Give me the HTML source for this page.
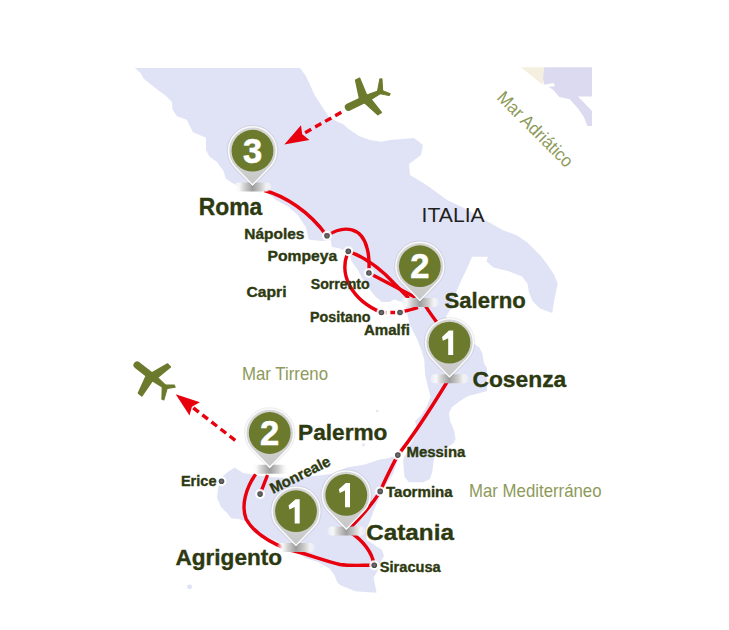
<!DOCTYPE html>
<html><head><meta charset="utf-8"><style>
html,body{margin:0;padding:0;background:#fff;}
svg{display:block;font-family:"Liberation Sans",sans-serif;}
</style></head><body>
<svg width="729" height="630" viewBox="0 0 729 630">
<defs>
<linearGradient id="shad" x1="0" y1="0" x2="1" y2="0"><stop offset="0" stop-color="#fff" stop-opacity="0.2"/><stop offset="0.15" stop-color="#f8f8f8"/><stop offset="0.28" stop-color="#d2d2d2"/><stop offset="0.5" stop-color="#9e9e9e"/><stop offset="0.72" stop-color="#cdcdcd"/><stop offset="0.86" stop-color="#f2f2f2"/><stop offset="1" stop-color="#fff" stop-opacity="0.2"/></linearGradient>
<linearGradient id="pingrad" x1="0" y1="0" x2="0" y2="1"><stop offset="0" stop-color="#d6d6d6"/><stop offset="0.7" stop-color="#cfcfcf"/><stop offset="1" stop-color="#c6c6c6"/></linearGradient>
<radialGradient id="dotg"><stop offset="0" stop-color="#777"/><stop offset="1" stop-color="#444"/></radialGradient>
<filter id="soft" x="-20%" y="-50%" width="140%" height="200%"><feGaussianBlur stdDeviation="0.7"/></filter>
</defs>
<polygon points="520.8,67.2 544.2,67.2 543.0,85.0" fill="#f5efdf"/>
<polygon points="544.2,67.2 592.0,67.2 592.0,96.4 578.0,96.4 592.0,111.0 592.0,126.1 587.3,126.1 583.8,116.8 578.0,108.6 569.8,99.3 559.3,97.0 553.5,90.0 548.8,87.0 555.2,85.9 553.5,83.0 544.2,84.7 543.0,78.3" fill="#dcdaf0"/>
<polygon points="134.9,68.0 300.0,68.0 306.0,76.0 314.6,95.0 321.7,106.0 328.8,116.7 337.8,122.0 343.0,124.0 348.5,129.0 359.0,136.0 370.0,140.0 381.0,141.7 390.0,140.0 414.0,138.0 423.0,145.0 421.0,155.0 409.0,164.0 410.0,175.0 428.0,186.0 447.0,200.0 462.0,207.0 487.0,221.0 502.4,230.0 516.7,235.3 527.4,242.5 540.0,255.0 547.0,263.9 554.0,274.6 557.7,283.5 554.1,301.3 552.3,313.0 539.9,308.5 532.7,301.3 529.0,292.4 527.4,283.5 522.0,276.4 507.8,271.0 493.5,267.4 486.4,261.2 488.0,256.7 472.1,256.7 466.7,269.2 461.4,280.0 456.0,292.4 450.7,308.5 446.0,317.0 452.0,327.0 462.0,336.0 473.0,343.0 479.4,347.6 482.5,354.0 484.0,363.5 487.0,368.0 487.2,391.0 478.0,393.5 468.0,396.0 460.0,401.0 452.0,407.0 449.0,413.0 450.0,421.0 454.0,430.0 455.6,439.0 453.3,443.3 450.0,445.6 440.0,452.0 434.4,457.8 433.3,463.3 432.2,472.2 430.0,478.9 423.3,482.2 408.9,482.2 404.4,476.7 403.3,463.3 403.3,458.9 406.7,452.2 412.2,441.1 417.8,430.0 415.0,421.0 420.7,415.7 426.4,407.0 430.7,397.0 427.9,387.0 425.0,374.3 424.3,360.0 422.0,352.0 417.5,340.0 409.5,324.0 407.0,313.0 406.7,309.4 401.7,302.0 394.3,299.5 389.4,302.0 382.0,302.0 375.8,297.0 371.0,291.0 362.0,278.0 358.0,270.0 352.0,262.0 348.0,252.0 338.0,248.0 331.8,247.0 330.7,240.0 322.0,241.0 312.0,240.0 308.6,239.5 305.8,227.1 297.6,214.8 288.0,206.6 275.7,199.7 264.7,190.1 256.0,188.0 250.0,187.0 243.5,189.0 232.3,182.9 225.7,178.5 223.5,170.9 217.0,162.1 209.3,156.6 206.0,150.0 206.0,137.8 193.0,132.3 189.6,125.5 186.9,120.0 185.5,119.3 176.9,116.2 172.5,109.4 171.9,102.0 165.7,95.8 155.9,88.4 147.2,81.6 143.5,78.5 141.0,73.6" fill="#e0e3f5"/>
<polygon points="218.5,486.0 221.0,478.0 227.0,472.5 234.6,467.4 243.2,473.1 251.9,474.6 270.0,477.0 290.0,478.0 306.0,477.0 331.0,474.0 347.6,467.2 364.0,464.7 378.9,459.8 388.8,458.1 397.0,454.8 401.0,446.0 398.0,460.0 393.0,474.0 386.0,484.0 379.0,498.0 374.0,510.0 369.5,522.0 366.0,530.0 367.0,540.0 376.0,546.0 382.0,550.0 384.0,556.0 380.5,562.0 378.0,570.0 373.6,577.7 375.1,585.3 376.6,592.8 364.5,592.1 355.4,591.3 340.4,585.3 337.3,582.3 334.3,574.7 329.8,568.7 319.2,562.6 305.7,558.1 299.6,553.6 288.2,549.8 277.5,541.5 266.6,537.0 253.4,532.7 246.8,521.7 238.6,519.0 231.4,518.6 227.0,513.0 221.0,507.0 217.0,498.0" fill="#e0e3f5"/>
<ellipse cx="189.6" cy="586.8" rx="2.6" ry="2.2" fill="#e0e3f5"/><circle cx="377.2" cy="411" r="1.2" fill="#e0e3f5"/><circle cx="363.5" cy="445" r="1.4" fill="#e0e3f5"/>
<path d="M264.5,190.5 C285,196 310,212 326.5,235.5" fill="none" stroke="#e8000e" stroke-width="3.4"/>
<path d="M327,235.8 C345,224 362,228 367,248 C370,258 369,266 368.9,273" fill="none" stroke="#e8000e" stroke-width="3.4"/>
<path d="M368.9,273 L415.7,297.5" fill="none" stroke="#e8000e" stroke-width="3.4"/>
<path d="M348.3,251.3 C365,257 380,268 394.7,283.9 L408.7,298.3" fill="none" stroke="#e8000e" stroke-width="3.4"/>
<path d="M348.3,251.3 C338,275 352,300 381.4,312.5" fill="none" stroke="#e8000e" stroke-width="3.4"/>
<path d="M400,312.5 C405,311 412,309.5 418,307.5" fill="none" stroke="#e8000e" stroke-width="3.4"/>
<path d="M422,300 C430,315 440,325 449.5,341" fill="none" stroke="#e8000e" stroke-width="3.4"/>
<path d="M449.5,378 C430,410 410,440 397.8,455.1 C390,470 384,482 380.2,491.4 C372,505 360,518 348,530" fill="none" stroke="#e8000e" stroke-width="3.4"/>
<path d="M255.6,474.3 C246,488 241,505 246,518.7 C252,530 266,541 288,549.5" fill="none" stroke="#e8000e" stroke-width="3.4"/>
<path d="M288,549.5 C305,553 322,560 340,564.5 C350,566 360,565.2 374.3,565.2" fill="none" stroke="#e8000e" stroke-width="3.4"/>
<path d="M374.3,565.2 C372,552 365,542 350,532" fill="none" stroke="#e8000e" stroke-width="3.4"/>
<path d="M267.5,475 L260.1,494.1" fill="none" stroke="#e8000e" stroke-width="3.4"/>
<path d="M381.4,312.5 L400,312.5" fill="none" stroke="#e8000e" stroke-width="3.4" stroke-dasharray="5 4"/>
<circle cx="327.0" cy="235.8" r="5" fill="#fff" opacity="0.9"/><circle cx="327.0" cy="235.8" r="2.8" fill="url(#dotg)"/>
<circle cx="348.3" cy="251.3" r="5" fill="#fff" opacity="0.9"/><circle cx="348.3" cy="251.3" r="2.8" fill="url(#dotg)"/>
<circle cx="368.9" cy="273.0" r="5" fill="#fff" opacity="0.9"/><circle cx="368.9" cy="273.0" r="2.8" fill="url(#dotg)"/>
<circle cx="381.4" cy="312.5" r="5" fill="#fff" opacity="0.9"/><circle cx="381.4" cy="312.5" r="2.8" fill="url(#dotg)"/>
<circle cx="400.0" cy="312.5" r="5" fill="#fff" opacity="0.9"/><circle cx="400.0" cy="312.5" r="2.8" fill="url(#dotg)"/>
<circle cx="397.8" cy="455.1" r="5" fill="#fff" opacity="0.9"/><circle cx="397.8" cy="455.1" r="2.8" fill="url(#dotg)"/>
<circle cx="380.2" cy="491.4" r="5" fill="#fff" opacity="0.9"/><circle cx="380.2" cy="491.4" r="2.8" fill="url(#dotg)"/>
<circle cx="374.3" cy="565.2" r="5" fill="#fff" opacity="0.9"/><circle cx="374.3" cy="565.2" r="2.8" fill="url(#dotg)"/>
<circle cx="260.1" cy="494.1" r="5" fill="#fff" opacity="0.9"/><circle cx="260.1" cy="494.1" r="2.8" fill="url(#dotg)"/>
<circle cx="221.5" cy="481.3" r="5" fill="#fff" opacity="0.9"/><circle cx="221.5" cy="481.3" r="2.8" fill="url(#dotg)"/>
<rect x="233.5" y="182.4" width="38" height="9" rx="4.5" fill="url(#shad)" filter="url(#soft)"/>
<path d="M235.36,167.35 A23.9,23.9 0 1 1 269.64,167.35 L252.50,185.00 Z" fill="none" stroke="#000" stroke-opacity="0.07" stroke-width="3.6"/>
<path d="M235.36,167.35 A23.9,23.9 0 1 1 269.64,167.35 L252.50,185.00 Z" fill="url(#pingrad)" stroke="#fafafa" stroke-width="1.5"/>
<circle cx="252.5" cy="150.7" r="20.9" fill="#6b7a2c"/>
<text x="252.5" y="162.9" text-anchor="middle" font-size="34.5" font-weight="bold" fill="#fff" stroke="#fff" stroke-width="0.6">3</text>
<rect x="400.8" y="297.9" width="38" height="9" rx="4.5" fill="url(#shad)" filter="url(#soft)"/>
<path d="M402.66,282.85 A23.9,23.9 0 1 1 436.94,282.85 L419.80,300.50 Z" fill="none" stroke="#000" stroke-opacity="0.07" stroke-width="3.6"/>
<path d="M402.66,282.85 A23.9,23.9 0 1 1 436.94,282.85 L419.80,300.50 Z" fill="url(#pingrad)" stroke="#fafafa" stroke-width="1.5"/>
<circle cx="419.8" cy="266.2" r="20.9" fill="#6b7a2c"/>
<text x="419.8" y="278.4" text-anchor="middle" font-size="34.5" font-weight="bold" fill="#fff" stroke="#fff" stroke-width="0.6">2</text>
<rect x="430.5" y="374.3" width="38" height="9" rx="4.5" fill="url(#shad)" filter="url(#soft)"/>
<path d="M432.36,359.25 A23.9,23.9 0 1 1 466.64,359.25 L449.50,376.90 Z" fill="none" stroke="#000" stroke-opacity="0.07" stroke-width="3.6"/>
<path d="M432.36,359.25 A23.9,23.9 0 1 1 466.64,359.25 L449.50,376.90 Z" fill="url(#pingrad)" stroke="#fafafa" stroke-width="1.5"/>
<circle cx="449.5" cy="342.6" r="20.9" fill="#6b7a2c"/>
<polygon points="453.2,330.6 453.2,355.0 448.2,355.0 448.2,338.3 442.9,340.8 442.0,337.0 449.0,330.6" fill="#fff"/>
<rect x="250.7" y="464.7" width="38" height="9" rx="4.5" fill="url(#shad)" filter="url(#soft)"/>
<path d="M252.56,449.65 A23.9,23.9 0 1 1 286.84,449.65 L269.70,467.30 Z" fill="none" stroke="#000" stroke-opacity="0.07" stroke-width="3.6"/>
<path d="M252.56,449.65 A23.9,23.9 0 1 1 286.84,449.65 L269.70,467.30 Z" fill="url(#pingrad)" stroke="#fafafa" stroke-width="1.5"/>
<circle cx="269.7" cy="433.0" r="20.9" fill="#6b7a2c"/>
<text x="269.7" y="445.2" text-anchor="middle" font-size="34.5" font-weight="bold" fill="#fff" stroke="#fff" stroke-width="0.6">2</text>
<rect x="277.0" y="542.9" width="38" height="9" rx="4.5" fill="url(#shad)" filter="url(#soft)"/>
<path d="M278.86,527.85 A23.9,23.9 0 1 1 313.14,527.85 L296.00,545.50 Z" fill="none" stroke="#000" stroke-opacity="0.07" stroke-width="3.6"/>
<path d="M278.86,527.85 A23.9,23.9 0 1 1 313.14,527.85 L296.00,545.50 Z" fill="url(#pingrad)" stroke="#fafafa" stroke-width="1.5"/>
<circle cx="296.0" cy="511.2" r="20.9" fill="#6b7a2c"/>
<polygon points="299.7,499.2 299.7,523.6 294.7,523.6 294.7,506.9 289.4,509.4 288.5,505.6 295.5,499.2" fill="#fff"/>
<rect x="327.3" y="526.6" width="38" height="9" rx="4.5" fill="url(#shad)" filter="url(#soft)"/>
<path d="M329.16,511.55 A23.9,23.9 0 1 1 363.44,511.55 L346.30,529.20 Z" fill="none" stroke="#000" stroke-opacity="0.07" stroke-width="3.6"/>
<path d="M329.16,511.55 A23.9,23.9 0 1 1 363.44,511.55 L346.30,529.20 Z" fill="url(#pingrad)" stroke="#fafafa" stroke-width="1.5"/>
<circle cx="346.3" cy="494.9" r="20.9" fill="#6b7a2c"/>
<polygon points="350.0,482.9 350.0,507.3 345.0,507.3 345.0,490.6 339.7,493.1 338.8,489.3 345.8,482.9" fill="#fff"/>
<line x1="341.3" y1="112.3" x2="302.2" y2="134.3" stroke="#e8000e" stroke-width="3.4" stroke-dasharray="7 4.5"/><path d="M284.3,144.4 L301.0,125.2 L302.2,134.3 L309.4,140.0 Z" fill="#e8000e"/>
<line x1="235.2" y1="440.3" x2="191.9" y2="406.8" stroke="#e8000e" stroke-width="3.4" stroke-dasharray="7 4.5"/><path d="M175.7,394.2 L199.9,402.2 L191.9,406.8 L189.5,415.6 Z" fill="#e8000e"/>
<g transform="translate(363.8,99.8) rotate(-25.8) scale(1,1)" fill="#6b7a2c" stroke="#6b7a2c" stroke-linejoin="round"><line x1="-17" y1="0" x2="3" y2="0" stroke-width="7.4" stroke-linecap="round"/><path d="M2,-3.4 L19.5,-1.5 L21,0 L19.5,1.5 L2,3.4 Z" stroke-width="1"/><path d="M-3.5,-2 L1.2,-21.3 L5.6,-21.3 L4.5,-2 Z" stroke-width="1.5"/><path d="M-1,2 L6.2,19.6 L10.3,19 L6.5,2 Z" stroke-width="1.5"/><path d="M15.5,-1 L23.5,-11.8 L25.5,-11 L21,0 Z" stroke-width="1"/><path d="M16.5,1 L24.5,7.2 L26.5,6 L21,0 Z" stroke-width="1"/></g>
<g transform="translate(150.6,375.6) rotate(38.0) scale(1,-1)" fill="#6b7a2c" stroke="#6b7a2c" stroke-linejoin="round"><line x1="-17" y1="0" x2="3" y2="0" stroke-width="7.4" stroke-linecap="round"/><path d="M2,-3.4 L19.5,-1.5 L21,0 L19.5,1.5 L2,3.4 Z" stroke-width="1"/><path d="M-3.5,-2 L1.2,-21.3 L5.6,-21.3 L4.5,-2 Z" stroke-width="1.5"/><path d="M-1,2 L6.2,19.6 L10.3,19 L6.5,2 Z" stroke-width="1.5"/><path d="M15.5,-1 L23.5,-11.8 L25.5,-11 L21,0 Z" stroke-width="1"/><path d="M16.5,1 L24.5,7.2 L26.5,6 L21,0 Z" stroke-width="1"/></g>
<text x="198.7" y="214.6" font-size="23.1" font-weight="bold" fill="#2d3910" stroke="#2d3910" stroke-width="0.35" textLength="63.5" lengthAdjust="spacingAndGlyphs">Roma</text>
<text x="244.3" y="239.4" font-size="14.5" font-weight="bold" fill="#2d3910" stroke="#2d3910" stroke-width="0.35" textLength="60.1" lengthAdjust="spacingAndGlyphs">Nápoles</text>
<text x="267.6" y="261.0" font-size="14.5" font-weight="bold" fill="#2d3910" stroke="#2d3910" stroke-width="0.35" textLength="69.6" lengthAdjust="spacingAndGlyphs">Pompeya</text>
<text x="310.8" y="289.4" font-size="14.5" font-weight="bold" fill="#2d3910" stroke="#2d3910" stroke-width="0.35" textLength="58.9" lengthAdjust="spacingAndGlyphs">Sorrento</text>
<text x="246.6" y="297.3" font-size="14.5" font-weight="bold" fill="#2d3910" stroke="#2d3910" stroke-width="0.35" textLength="39.9" lengthAdjust="spacingAndGlyphs">Capri</text>
<text x="310.1" y="321.5" font-size="14.5" font-weight="bold" fill="#2d3910" stroke="#2d3910" stroke-width="0.35" textLength="60.3" lengthAdjust="spacingAndGlyphs">Positano</text>
<text x="363.9" y="335.0" font-size="14.5" font-weight="bold" fill="#2d3910" stroke="#2d3910" stroke-width="0.35" textLength="46.0" lengthAdjust="spacingAndGlyphs">Amalfi</text>
<text x="444.5" y="308.0" font-size="22.1" font-weight="bold" fill="#2d3910" stroke="#2d3910" stroke-width="0.35" textLength="81.2" lengthAdjust="spacingAndGlyphs">Salerno</text>
<text x="472.4" y="387.4" font-size="22.1" font-weight="bold" fill="#2d3910" stroke="#2d3910" stroke-width="0.35" textLength="93.9" lengthAdjust="spacingAndGlyphs">Cosenza</text>
<text x="298.1" y="440.1" font-size="22.1" font-weight="bold" fill="#2d3910" stroke="#2d3910" stroke-width="0.35" textLength="89.3" lengthAdjust="spacingAndGlyphs">Palermo</text>
<text x="180.9" y="485.8" font-size="14.5" font-weight="bold" fill="#2d3910" stroke="#2d3910" stroke-width="0.35" textLength="35.6" lengthAdjust="spacingAndGlyphs">Erice</text>
<text x="406.5" y="457.4" font-size="14.5" font-weight="bold" fill="#2d3910" stroke="#2d3910" stroke-width="0.35" textLength="58.9" lengthAdjust="spacingAndGlyphs">Messina</text>
<text x="385.9" y="496.9" font-size="14.5" font-weight="bold" fill="#2d3910" stroke="#2d3910" stroke-width="0.35" textLength="66.8" lengthAdjust="spacingAndGlyphs">Taormina</text>
<text x="366.3" y="540.4" font-size="22.1" font-weight="bold" fill="#2d3910" stroke="#2d3910" stroke-width="0.35" textLength="87.6" lengthAdjust="spacingAndGlyphs">Catania</text>
<text x="175.4" y="565.2" font-size="22.1" font-weight="bold" fill="#2d3910" stroke="#2d3910" stroke-width="0.35" textLength="106.7" lengthAdjust="spacingAndGlyphs">Agrigento</text>
<text x="379.8" y="571.6" font-size="14.5" font-weight="bold" fill="#2d3910" stroke="#2d3910" stroke-width="0.35" textLength="60.9" lengthAdjust="spacingAndGlyphs">Siracusa</text>
<text x="421.6" y="222.0" font-size="20.5" font-weight="normal" fill="#1f1f1f" textLength="63.0" lengthAdjust="spacingAndGlyphs">ITALIA</text>
<text x="242.0" y="380.4" font-size="19" font-weight="normal" fill="#8d9a5a" textLength="86.0" lengthAdjust="spacingAndGlyphs">Mar Tirreno</text>
<text x="469.0" y="497.0" font-size="18.5" font-weight="normal" fill="#8d9a5a" textLength="132.5" lengthAdjust="spacingAndGlyphs">Mar Mediterráneo</text>
<g transform="translate(273,494) rotate(-26.5)"><text x="0.0" y="0.0" font-size="15" font-weight="bold" fill="#2d3910" stroke="#2d3910" stroke-width="0.35" textLength="65.5" lengthAdjust="spacingAndGlyphs">Monreale</text></g>
<g transform="translate(496,98.5) rotate(45)"><text x="0.0" y="0.0" font-size="18" font-weight="normal" fill="#8d9a5a" textLength="99.0" lengthAdjust="spacingAndGlyphs">Mar Adriático</text></g>
</svg></body></html>
